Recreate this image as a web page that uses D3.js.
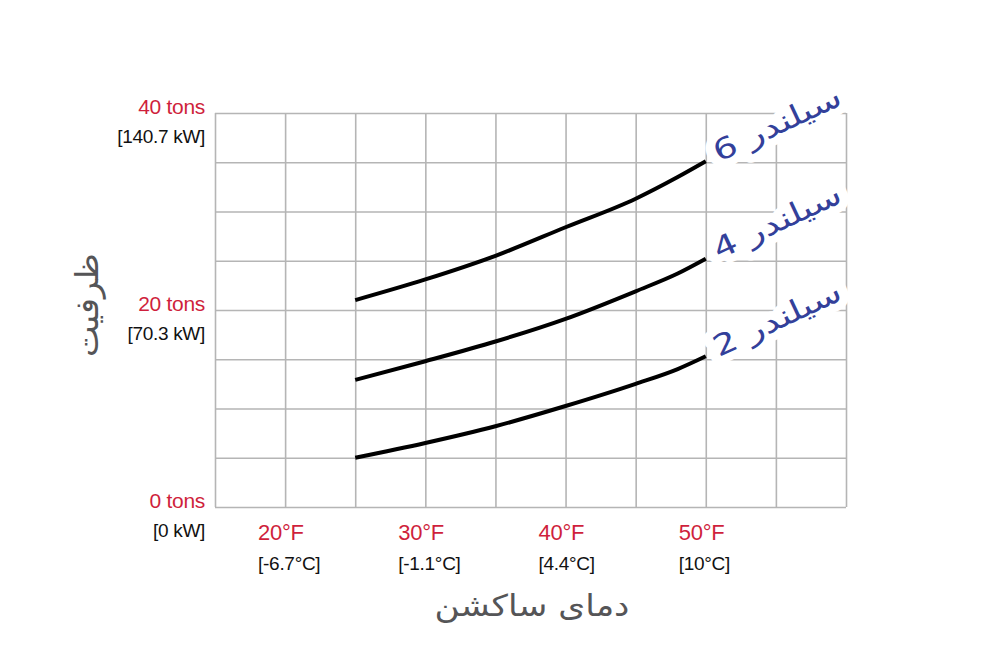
<!DOCTYPE html>
<html>
<head>
<meta charset="utf-8">
<script src="https://cdn.jsdelivr.net/npm/d3@7"></script>
<style>
    body { margin: 0; background: #fff; }
    #chart-area { width: 1007px; height: 651px; }
    .grid line { stroke: #b5b5b5; stroke-width: 1.6; }
    .grid .domain { display: none; }
    .tickRed { fill: #cf1f3c; font-family: "Liberation Sans", Arial, sans-serif; letter-spacing: -0.3px; }
    .tickBlack { fill: #111; font-family: "Liberation Sans", Arial, sans-serif; letter-spacing: -0.3px; }
    .axisTitle { fill: #555557; font-family: "DejaVu Sans", sans-serif; }
    .seriesLabel { fill: #33409a; font-family: "DejaVu Sans", sans-serif; }
</style>
</head>
<body>
<div id="chart-area"></div>
<script>

// suction temperature (°F) and capacity (tons)
let tempF = [25, 30, 35, 40, 45, 48, 50];
let cyl6 = [21.0, 23.1, 25.5, 28.4, 31.3, 33.5, 35.1];
let cyl4 = [12.9, 14.8, 16.8, 19.1, 21.9, 23.7, 25.2];
let cyl2 = [5.0, 6.5, 8.2, 10.25, 12.5, 14.0, 15.3];
let seriesNames = ["سیلندر 6", "سیلندر 4", "سیلندر 2"];

// tick labels
let xTickValues = [20, 30, 40, 50];
let xTickF = ["20°F", "30°F", "40°F", "50°F"];
let xTickC = ["[-6.7°C]", "[-1.1°C]", "[4.4°C]", "[10°C]"];
let yTickValues = [0, 20, 40];
let yTickTons = ["0 tons", "20 tons", "40 tons"];
let yTickKW = ["[0 kW]", "[70.3 kW]", "[140.7 kW]"];

let xTitle = "دمای ساکشن";
let yTitle = "ظرفیت";

class CapacityChart {

    constructor(parentElement) {
        this.parentElement = parentElement;
        this.series = [cyl6, cyl4, cyl2].map((vals, i) => ({
            name: seriesNames[i],
            values: tempF.map((t, j) => ({temp: t, tons: vals[j]}))
        }));
        this.initVis();
    }

    initVis() {
        let vis = this;

        vis.margin = {top: 113, right: 161, bottom: 144, left: 215};
        vis.width = 1007 - vis.margin.left - vis.margin.right;
        vis.height = 651 - vis.margin.top - vis.margin.bottom;

        vis.svg = d3.select("#" + vis.parentElement).append("svg")
            .attr("width", 1007)
            .attr("height", 651)
            .append("g")
            .attr("transform", "translate(" + vis.margin.left + "," + vis.margin.top + ")");

        // scales: grid every 5°F / 5 tons
        vis.x = d3.scaleLinear().domain([15, 60]).range([0, vis.width]);
        vis.y = d3.scaleLinear().domain([0, 40]).range([vis.height, 0]);

        // grid
        vis.svg.append("g")
            .attr("class", "grid")
            .call(d3.axisBottom(vis.x).tickValues(d3.range(15, 61, 5)).tickSize(vis.height).tickFormat(""))
            .selectAll(".tick line").attr("y1", 0).attr("y2", vis.height);

        vis.svg.append("g")
            .attr("class", "grid")
            .call(d3.axisLeft(vis.y).tickValues(d3.range(0, 41, 5)).tickSize(-vis.width).tickFormat(""));

        // y tick labels
        yTickValues.forEach((v, i) => {
            vis.svg.append("text")
                .attr("class", "tickRed")
                .attr("x", -10)
                .attr("y", vis.y(v) + 1)
                .attr("text-anchor", "end")
                .style("font-size", "21px")
                .text(yTickTons[i]);
            vis.svg.append("text")
                .attr("class", "tickBlack")
                .attr("x", -10)
                .attr("y", vis.y(v) + 30)
                .attr("text-anchor", "end")
                .style("font-size", "19px")
                .text(yTickKW[i]);
        });

        // x tick labels
        xTickValues.forEach((v, i) => {
            vis.svg.append("text")
                .attr("class", "tickRed")
                .attr("x", vis.x(v) - 27)
                .attr("y", vis.height + 33)
                .style("font-size", "22px")
                .text(xTickF[i]);
            vis.svg.append("text")
                .attr("class", "tickBlack")
                .attr("x", vis.x(v) - 27)
                .attr("y", vis.height + 63)
                .style("font-size", "19px")
                .text(xTickC[i]);
        });

        // axis titles
        let xt = vis.svg.append("text")
            .attr("class", "axisTitle")
            .attr("text-anchor", "middle")
            .style("font-size", "30px")
            .text(xTitle);
        vis.fitText(xt, 195, 317, vis.height + 109, 0);

        let yt = vis.svg.append("text")
            .attr("class", "axisTitle")
            .attr("text-anchor", "middle")
            .style("font-size", "32px")
            .text(yTitle);
        vis.fitText(yt, 104, -117, vis.y(20) - 5, -90);

        // lines
        vis.line = d3.line()
            .curve(d3.curveMonotoneX)
            .x(d => vis.x(d.temp))
            .y(d => vis.y(d.tons));

        vis.svg.append("g").attr("class", "lines")
            .selectAll("path")
            .data(vis.series)
            .enter()
            .append("path")
            .attr("d", d => vis.line(d.values))
            .attr("fill", "none")
            .attr("stroke", "#000")
            .attr("stroke-width", 4);

        // series labels with white halo that cuts the grid
        vis.series.forEach(s => {
            let last = s.values[s.values.length - 1];
            let g = vis.svg.append("g")
                .attr("transform", "translate(" + (vis.x(last.temp) + 13) + "," + (vis.y(last.tons) + 1) + ") rotate(-25)");
            let halo = g.append("text")
                .attr("class", "seriesLabel")
                .style("font-size", "29px")
                .style("fill", "#fff")
                .attr("stroke", "#fff")
                .attr("stroke-width", 16)
                .attr("stroke-linejoin", "round")
                .text(s.name);
            let lab = g.append("text")
                .attr("class", "seriesLabel")
                .style("font-size", "29px")
                .text(s.name);
            let sx = 138 / lab.node().getComputedTextLength();
            halo.attr("transform", "scale(" + sx + ",1)");
            lab.attr("transform", "scale(" + sx + ",1)");
        });
    }

    // squeeze a text to a target length and place it
    fitText(sel, target, cx, cy, angle) {
        let len = sel.node().getComputedTextLength();
        sel.attr("transform", "translate(" + cx + "," + cy + ") rotate(" + angle + ") scale(" + (target / len) + ",1)");
    }
}

new CapacityChart("chart-area");
</script>
</body>
</html>
